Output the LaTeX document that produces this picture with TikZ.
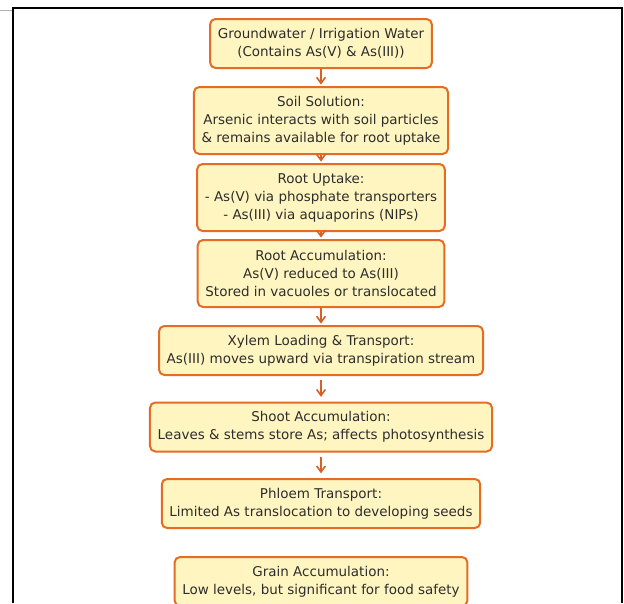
\documentclass[tikz,border=0pt]{standalone}
\usepackage{fontspec}
\setmainfont{DejaVu Sans}
\usepackage{tikz}
\usetikzlibrary{arrows.meta}

\definecolor{boxfill}{RGB}{255,245,192}
\definecolor{boxline}{RGB}{228,108,36}
\definecolor{arrowline}{RGB}{214,96,38}
\definecolor{txt}{RGB}{45,45,45}

\begin{document}
\begin{tikzpicture}[x=0.75pt,y=-0.75pt,
  stepbox/.style={draw=boxline,fill=boxfill,line width=1.5pt,rounded corners=4pt,
    align=center,text=txt,font=\fontsize{10.1}{13.5}\selectfont,
    inner xsep=5.8pt,inner ysep=0pt,minimum height=36.75pt},
  tallbox/.style={stepbox,minimum height=50.25pt},
  flow/.style={draw=arrowline,line width=1.2pt,-{Straight Barb[length=4.5pt,width=6.5pt]},shorten >=1pt},
  longflow/.style={flow,shorten <=3pt,shorten >=3.5pt}]

\useasboundingbox (0,0) rectangle (624,603);

% frame
\draw[gray!60,line width=0.6pt] (0,10)--(12,10);
\draw[line width=1.5pt] (13,603)--(13,7.5)--(621.5,7.5)--(621.5,603);

\node[stepbox] (gw) at (321,43.5) {Groundwater / Irrigation Water\\(Contains As(V) \& As(III))};
\node[tallbox] (soil) at (321,120.5) {Soil Solution:\\Arsenic interacts with soil particles\\\& remains available for root uptake};
\node[tallbox] (uptake) at (321,197.5) {Root Uptake:\\- As(V) via phosphate transporters\\- As(III) via aquaporins (NIPs)};
\node[tallbox] (rootacc) at (321,273.5) {Root Accumulation:\\As(V) reduced to As(III)\\Stored in vacuoles or translocated};
\node[stepbox] (xylem) at (321,350.5) {Xylem Loading \& Transport:\\As(III) moves upward via transpiration stream};
\node[stepbox] (shoot) at (321,427) {Shoot Accumulation:\\Leaves \& stems store As; affects photosynthesis};
\node[stepbox] (phloem) at (321,503.5) {Phloem Transport:\\Limited As translocation to developing seeds};
\node[stepbox] (grain) at (321,581.5) {Grain Accumulation:\\Low levels, but significant for food safety};

\draw[flow] (gw)--(soil);
\draw[flow] (soil)--(uptake);
\draw[flow] (uptake)--(rootacc);
\draw[flow] (rootacc)--(xylem);
\draw[longflow] (xylem)--(shoot);
\draw[longflow] (shoot)--(phloem);

\end{tikzpicture}
\end{document}
